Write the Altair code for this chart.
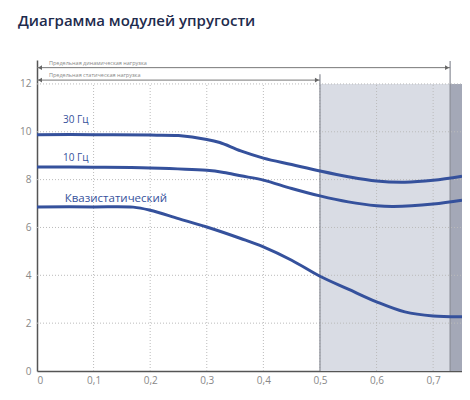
import altair as alt
import pandas as pd

XMAX = 0.751
YMAX = 13

# Curves (E-modulus vs load)
x_30 = [0, 0.1, 0.2, 0.25, 0.3, 0.323, 0.36, 0.4, 0.45, 0.5, 0.55, 0.6, 0.65, 0.7, 0.751]
y_30 = [9.88, 9.88, 9.86, 9.84, 9.68, 9.55, 9.2, 8.9, 8.63, 8.36, 8.12, 7.94, 7.89, 7.97, 8.14]

x_10 = [0, 0.1, 0.2, 0.3, 0.33, 0.36, 0.4, 0.45, 0.5, 0.55, 0.6, 0.63, 0.7, 0.751]
y_10 = [8.53, 8.52, 8.49, 8.39, 8.3, 8.16, 7.98, 7.63, 7.32, 7.07, 6.91, 6.88, 6.98, 7.14]

x_q = [0, 0.1, 0.17, 0.2, 0.25, 0.3, 0.36, 0.4, 0.45, 0.5, 0.55, 0.6, 0.65, 0.7, 0.751]
y_q = [6.86, 6.86, 6.85, 6.72, 6.37, 6.02, 5.54, 5.19, 4.63, 3.96, 3.42, 2.89, 2.47, 2.3, 2.27]

series_names = ["30 Гц", "10 Гц", "Квазистатический"]

x_ticks = [0, 0.1, 0.2, 0.3, 0.4, 0.5, 0.6, 0.7]
y_ticks = [0, 2, 4, 6, 8, 10, 12]

static_limit = 0.5
dynamic_limit = 0.73

BLUE = "#35519c"
FONT = "Open Sans"

rows = []
for name, xs, ys in zip(series_names, [x_30, x_10, x_q], [y_30, y_10, y_q]):
    for a, b in zip(xs, ys):
        rows.append({"s": name, "x": a, "y": b})
curves_df = pd.DataFrame(rows)

xscale = alt.Scale(domain=[0, XMAX], nice=False, zero=False)
yscale = alt.Scale(domain=[0, YMAX], nice=False, zero=False)

xaxis = alt.Axis(
    values=x_ticks, grid=False, ticks=False, title=None,
    labelExpr="datum.value == 0 ? '0' : replace(format(datum.value, '.1f'), '.', ',')",
    domainColor="#555", domainWidth=1.5, labelColor="#888", labelFontSize=10,
    labelFont=FONT, labelPadding=4)
yaxis = alt.Axis(
    values=y_ticks, grid=False, ticks=False, title=None,
    domainColor="#555", domainWidth=1.5, labelColor="#888", labelFontSize=10,
    labelFont=FONT, labelPadding=6)


def X(field):
    return alt.X(field, scale=xscale, axis=xaxis)


def Y(field):
    return alt.Y(field, scale=yscale, axis=yaxis)


# shaded zones
zones = pd.DataFrame({
    "x": [static_limit, dynamic_limit],
    "x2": [dynamic_limit, XMAX],
    "y": [0, 0], "y2": [12, 12],
    "c": ["#d9dce4", "#a4a8b7"],
})
zone_layer = alt.Chart(zones).mark_rect().encode(
    x=X("x:Q"), x2="x2:Q", y=Y("y:Q"), y2="y2:Q",
    color=alt.Color("c:N", scale=None),
)

# gridlines
hgrid = pd.DataFrame({"y": [2, 4, 6, 8, 10, 12], "x": 0, "x2": XMAX})
vgrid = pd.DataFrame({"x": [0.1, 0.2, 0.3, 0.4, 0.5, 0.6, 0.7], "y": 0, "y2": 12})
hgrid_layer = alt.Chart(hgrid).mark_rule(color="#bbbbbb", strokeDash=[1, 2], strokeWidth=1).encode(
    x=X("x:Q"), x2="x2:Q", y=Y("y:Q"))
vgrid_layer = alt.Chart(vgrid).mark_rule(color="#bbbbbb", strokeDash=[1, 2], strokeWidth=1).encode(
    x=X("x:Q"), y=Y("y:Q"), y2="y2:Q")

# zone boundary lines
bounds = pd.DataFrame({"x": [static_limit, dynamic_limit], "y": [0, 0], "y2": [12.4, 12.96]})
bound_layer = alt.Chart(bounds).mark_rule(color="#8a8d96", strokeWidth=1.2).encode(
    x=X("x:Q"), y=Y("y:Q"), y2="y2:Q")

# arrows
arrows = pd.DataFrame({
    "x": [0, 0], "x2": [dynamic_limit, static_limit], "y": [12.68, 12.16],
    "label": ["Предельная динамическая нагрузка", "Предельная статическая нагрузка"],
    "ty": [12.86, 12.36],
})
arrow_lines = alt.Chart(arrows).mark_rule(color="#777", strokeWidth=1).encode(
    x=X("x:Q"), x2="x2:Q", y=Y("y:Q"))
heads_left = alt.Chart(arrows).mark_point(shape="triangle-left", filled=True, color="#666", size=22, opacity=1, xOffset=3).encode(
    x=X("x:Q"), y=Y("y:Q"))
heads_right = alt.Chart(arrows).mark_point(shape="triangle-right", filled=True, color="#666", size=22, opacity=1, xOffset=-3).encode(
    x=X("x2:Q"), y=Y("y:Q"))
arrow_text = alt.Chart(arrows).mark_text(align="left", baseline="middle", fontSize=5.5, color="#888", font=FONT, dx=12).encode(
    x=X("x:Q"), y=Y("ty:Q"), text="label:N")

# curves
curve_layer = alt.Chart(curves_df).mark_line(color=BLUE, strokeWidth=3, interpolate="catmull-rom", clip=True).encode(
    x=X("x:Q"), y=Y("y:Q"), detail="s:N")

labels = pd.DataFrame({
    "s": series_names,
    "x": [0.046, 0.046, 0.049],
    "y": [10.5, 8.9, 7.2],
    "fs": [10, 10, 11.5],
})
label_layer = alt.Chart(labels).mark_text(align="left", baseline="middle", color=BLUE, font=FONT).encode(
    x=X("x:Q"), y=Y("y:Q"), text="s:N",
    size=alt.Size("fs:Q", scale=None, legend=None))

chart = alt.layer(
    zone_layer, hgrid_layer, vgrid_layer, bound_layer,
    arrow_lines, heads_left, heads_right, arrow_text,
    curve_layer, label_layer,
).properties(
    width=425, height=311,
    autosize=alt.AutoSizeParams(type="none"),
    padding={"left": 29, "top": 52, "right": 0, "bottom": 16},
    title=alt.TitleParams("Диаграмма модулей упругости", anchor="start", frame="group", dx=-19, offset=31,
                          fontSize=15, font=FONT, fontWeight=600, color="#1e2b4d"),
).configure_view(stroke=None)

chart.save("out.html", embed_options={"renderer": "svg", "actions": False})
